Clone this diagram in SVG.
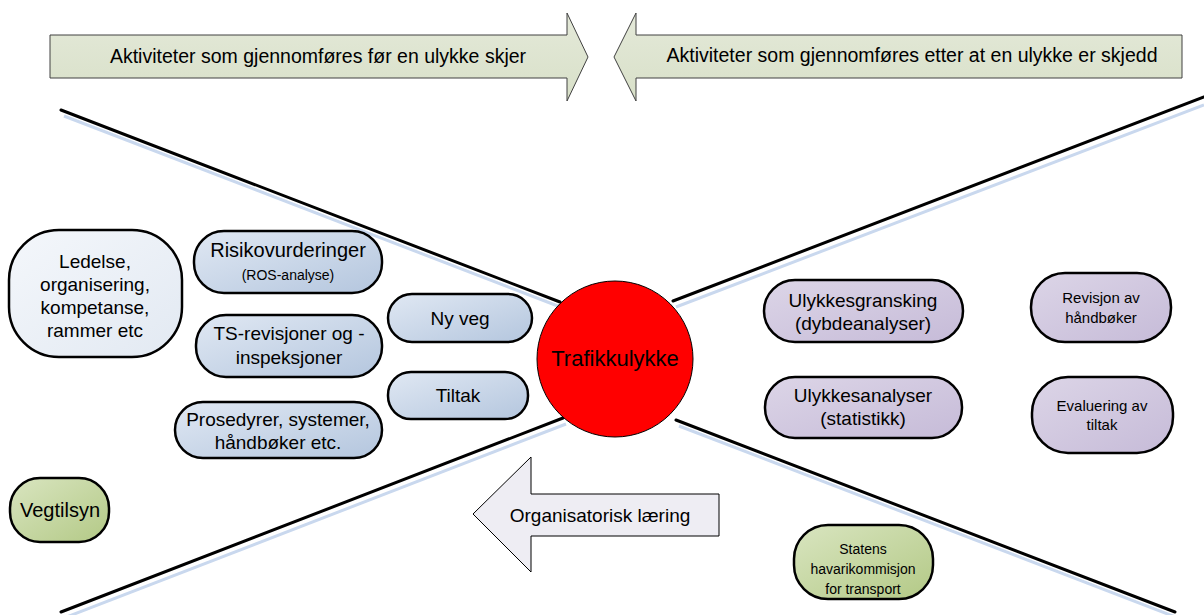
<svg xmlns="http://www.w3.org/2000/svg" width="1204" height="615" viewBox="0 0 1204 615">
<defs>
<linearGradient id="gTop" x1="0" y1="0" x2="0" y2="1"><stop offset="0" stop-color="#e4e9d9"/><stop offset="1" stop-color="#d8e0c8"/></linearGradient>
<linearGradient id="gBlue" x1="0" y1="0" x2="1" y2="1"><stop offset="0" stop-color="#e0e8f3"/><stop offset="1" stop-color="#b4c6de"/></linearGradient>
<linearGradient id="gBlueL" x1="0" y1="0" x2="1" y2="1"><stop offset="0" stop-color="#f4f7fb"/><stop offset="1" stop-color="#e2e9f2"/></linearGradient>
<linearGradient id="gPurp" x1="0" y1="0" x2="1" y2="1"><stop offset="0" stop-color="#dcd5e7"/><stop offset="1" stop-color="#c6bbd8"/></linearGradient>
<linearGradient id="gGreen" x1="0" y1="0" x2="1" y2="1"><stop offset="0" stop-color="#d9e5c0"/><stop offset="1" stop-color="#b3c986"/></linearGradient>
</defs>
<style>
text{font-family:"Liberation Sans",Arial,sans-serif;fill:#000;text-anchor:middle;dominant-baseline:central}
.box{stroke:#000;stroke-width:2.5}
.line{stroke:#000;stroke-width:3;stroke-linecap:round}
.shadow{stroke:#c9d8ee;stroke-width:3}
.top{fill:url(#gTop);stroke:#404040;stroke-width:1}
.t16{font-size:19.5px}
.t19{font-size:19px}
.t15{font-size:15px}
</style>
<rect width="1204" height="615" fill="#fff"/>

<g id="connectors">
<line class="shadow" x1="64" y1="116" x2="563" y2="308"/>
<line class="shadow" x1="676" y1="307" x2="1204" y2="105"/>
<line class="shadow" x1="64" y1="618" x2="566" y2="424"/>
<line class="shadow" x1="679" y1="426" x2="1178" y2="618"/>
<line class="line" x1="61" y1="110" x2="560" y2="302"/>
<line class="line" x1="673" y1="301" x2="1204" y2="97"/>
<line class="line" x1="61" y1="612" x2="563" y2="418"/>
<line class="line" x1="676" y1="420" x2="1175" y2="612"/>
</g>

<g id="arrow-before">
<path class="top" d="M50,35 H567 V13 L588,57 L567,101 V78 H50 Z"/>
<text class="t16" x="318" y="56">Aktiviteter som gjennomføres før en ulykke skjer</text>
</g>
<g id="arrow-after">
<path class="top" d="M614,57 L636,13 V35 H1182 V78 H636 V101 Z"/>
<text class="t16" x="912" y="55">Aktiviteter som gjennomføres etter at en ulykke er skjedd</text>
</g>

<g id="ledelse">
<rect class="box" x="9" y="230" width="173" height="127" rx="50" ry="50" fill="url(#gBlueL)"/>
<text class="t19" x="95" y="261">Ledelse,</text>
<text class="t19" x="95" y="284">organisering,</text>
<text class="t19" x="95" y="307">kompetanse,</text>
<text class="t19" x="95" y="330">rammer etc</text>
</g>

<g id="risiko">
<rect class="box" x="194" y="231" width="188" height="62" rx="30" ry="30" fill="url(#gBlue)"/>
<text x="288" y="250" font-size="20">Risikovurderinger</text>
<text x="288" y="275" font-size="14">(ROS-analyse)</text>
</g>

<g id="ts">
<rect class="box" x="196" y="315" width="186" height="62" rx="30" ry="30" fill="url(#gBlue)"/>
<text class="t19" x="289" y="333">TS-revisjoner og -</text>
<text class="t19" x="289" y="357">inspeksjoner</text>
</g>

<g id="prosedyrer">
<rect class="box" x="175" y="402" width="207" height="56" rx="28" ry="28" fill="url(#gBlue)"/>
<text class="t19" x="278" y="419">Prosedyrer, systemer,</text>
<text class="t19" x="278" y="442">håndbøker etc.</text>
</g>

<g id="nyveg">
<rect class="box" x="388" y="294" width="144" height="48" rx="24" ry="24" fill="url(#gBlue)"/>
<text class="t19" x="460" y="318">Ny veg</text>
</g>

<g id="tiltak">
<rect class="box" x="388" y="372" width="140" height="47" rx="23" ry="23" fill="url(#gBlue)"/>
<text class="t19" x="458" y="395">Tiltak</text>
</g>

<g id="trafikkulykke">
<circle cx="615" cy="359" r="78" fill="#ff0000" stroke="#000" stroke-width="1"/>
<text x="615" y="358" font-size="22">Trafikkulykke</text>
</g>

<g id="gransking">
<rect class="box" x="764" y="280" width="199" height="62" rx="31" ry="31" fill="url(#gPurp)"/>
<text class="t19" x="863" y="300">Ulykkesgransking</text>
<text class="t19" x="863" y="323">(dybdeanalyser)</text>
</g>

<g id="analyser">
<rect class="box" x="765" y="377" width="197" height="61" rx="30" ry="30" fill="url(#gPurp)"/>
<text class="t19" x="863" y="395">Ulykkesanalyser</text>
<text class="t19" x="863" y="418">(statistikk)</text>
</g>

<g id="revisjon">
<rect class="box" x="1031" y="273" width="140" height="69" rx="34" ry="34" fill="url(#gPurp)"/>
<text class="t15" x="1101" y="297">Revisjon av</text>
<text class="t15" x="1101" y="317">håndbøker</text>
</g>

<g id="evaluering">
<rect class="box" x="1032" y="377" width="141" height="76" rx="36" ry="36" fill="url(#gPurp)"/>
<text class="t15" x="1102" y="405">Evaluering av</text>
<text class="t15" x="1102" y="424">tiltak</text>
</g>

<g id="vegtilsyn">
<rect class="box" x="10" y="478" width="99" height="64" rx="30" ry="30" fill="url(#gGreen)"/>
<text x="60" y="510" font-size="20">Vegtilsyn</text>
</g>

<g id="statens">
<rect class="box" x="794" y="525" width="139" height="74" rx="34" ry="34" fill="url(#gGreen)"/>
<text x="863" y="549" font-size="14">Statens</text>
<text x="863" y="569" font-size="14">havarikommisjon</text>
<text x="863" y="589" font-size="14">for transport</text>
</g>

<g id="laering">
<path d="M473,514 L531,457 V494 H719 V536 H531 V572 Z" fill="#eeedf3" stroke="#000" stroke-width="1"/>
<text class="t19" x="600" y="515">Organisatorisk læring</text>
</g>
</svg>
